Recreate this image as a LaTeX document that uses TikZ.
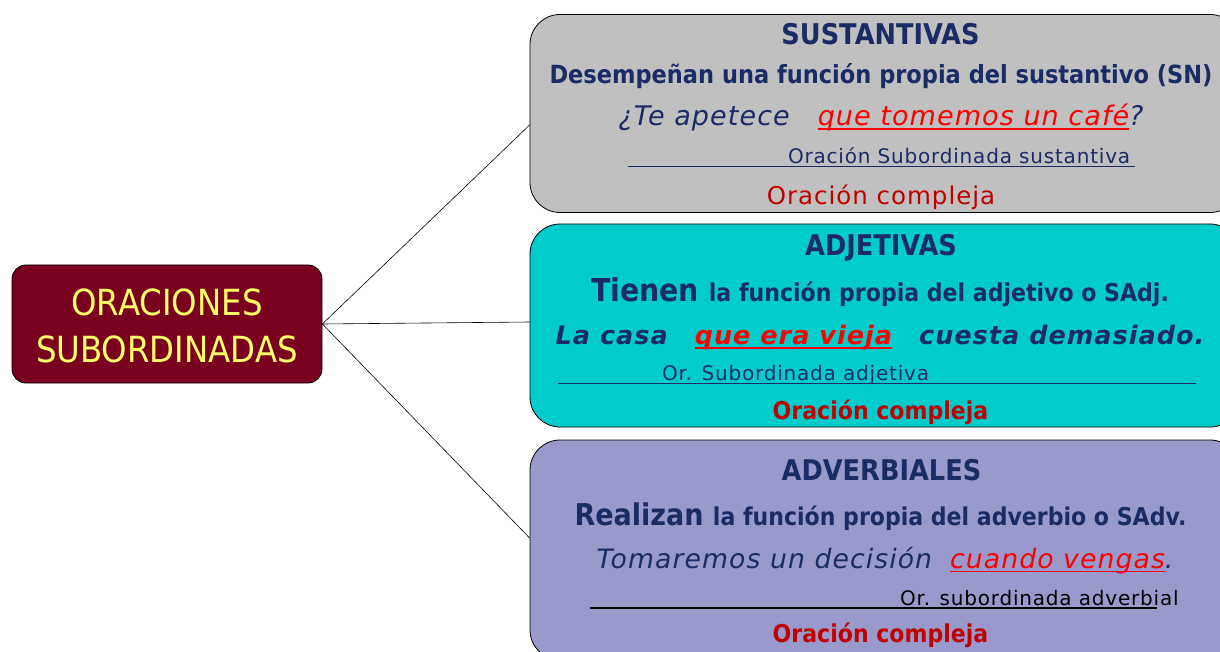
\documentclass[tikz,border=0pt]{standalone}
\usepackage{fontspec}
\setmainfont{DejaVu Sans}[FakeStretch=0.9]
\newfontfamily\lsp{DejaVu Sans}[FakeStretch=1.0, LetterSpace=4]
\definecolor{navy}{HTML}{1B2B66}
\definecolor{redu}{HTML}{FF0000}
\definecolor{dred}{HTML}{C00000}
\definecolor{maroon}{HTML}{7A0020}
\definecolor{yell}{HTML}{FFFF66}
\definecolor{grayb}{HTML}{C0C0C0}
\definecolor{cyanb}{HTML}{00CCCC}
\definecolor{lavb}{HTML}{9999CC}
\newcommand{\fsz}[1]{\fontsize{#1}{#1}\selectfont}
\newcommand{\ulx}[1]{\setbox0\hbox{#1}\rlap{\rule[-4pt]{\wd0}{1.5pt}}\box0}
\tikzset{
  bigbox/.style={draw=black, line width=0.8pt, rounded corners=30pt, minimum width=710pt, inner sep=0pt},
  rootbox/.style={draw=black, line width=0.8pt, rounded corners=14pt, fill=maroon, minimum width=310pt, minimum height=118pt, inner sep=0pt},
  txt/.style={anchor=base, inner sep=0pt, outer sep=0pt},
  link/.style={draw=black, line width=0.6pt},
  uline/.style={line width=1.3pt}
}
\begin{document}
\begin{tikzpicture}[x=1pt,y=-1pt]
\useasboundingbox (0,0) rectangle (1220,652);
% root
\node[rootbox] (root) at (167,324) {};
\node[txt, text=yell] (r1) at (167,315) {\fsz{36}ORACIONES};
\node[txt, text=yell] (r2) at (167,362) {\fsz{36}SUBORDINADAS};
% boxes
\node[bigbox, fill=grayb, minimum height=198pt] (b1) at (885,113.5) {};
\node[bigbox, fill=cyanb, minimum height=203pt] (b2) at (885,325.5) {};
\node[bigbox, fill=lavb, minimum height=220pt] (b3) at (885,550) {};
% connectors
\draw[link] (root.east) -- ([yshift=-11.5pt]b1.west);
\draw[link] (root.east) -- ([yshift=3.5pt]b2.west);
\draw[link] (root.east) -- ([yshift=12pt]b3.west);
% box 1
\node[txt, text=navy] (t11) at (880.5,45) {\fsz{28.5}\bfseries SUSTANTIVAS};
\node[txt, text=navy] (t12) at (881,83.5) {\fsz{25}\bfseries Desempeñan una función propia del sustantivo (SN)};
\node[txt, text=navy] (t13) at (881,126) {\lsp\fsz{27}\itshape ¿Te apetece\hspace{28pt}\textcolor{redu}{\ulx{que tomemos un café}}?};
\coordinate (l1a) at (628,166.5);
\coordinate (l1b) at (1135,166.5);
\draw[navy, uline] (l1a) -- (l1b);
\node[txt, anchor=base west, text=navy] (t14) at (788,163.5) {\lsp\fsz{20}Oración Subordinada sustantiva};
\node[txt, text=dred] (t15) at (881,205) {\lsp\fsz{24.5}Oración compleja};
% box 2
\node[txt, text=navy] (t21) at (881,256) {\fsz{28.5}\bfseries ADJETIVAS};
\node[txt, text=navy] (t22) at (880,301) {\bfseries\fsz{31.5}Tienen \fsz{24.5}la función propia del adjetivo o SAdj.};
\node[txt, text=navy] (t23) at (880,344.5) {\lsp\fsz{25.5}\bfseries\itshape La casa\hspace{27pt}\textcolor{redu}{\ulx{que era vieja}}\hspace{27pt}cuesta demasiado.};
\coordinate (l2a) at (558,383.5);
\coordinate (l2b) at (1196,383.5);
\draw[navy, uline] (l2a) -- (l2b);
\node[txt, anchor=base west, text=navy] (t24) at (662,380) {\lsp\fsz{20}Or. Subordinada adjetiva};
\node[txt, text=dred] (t25) at (880.5,419) {\fsz{24.5}\bfseries Oración compleja};
% box 3
\node[txt, text=navy] (t31) at (881.5,480) {\fsz{28.5}\bfseries ADVERBIALES};
\node[txt, text=navy] (t32) at (880.5,525) {\bfseries\fsz{30}Realizan \fsz{24.5}la función propia del adverbio o SAdv.};
\node[txt, text=navy] (t33) at (885,568) {\lsp\fsz{26.7}\itshape Tomaremos un decisión\hspace{18pt}\textcolor{redu}{\ulx{cuando vengas}}.};
\coordinate (l3a) at (590,608);
\coordinate (l3b) at (1157,608);
\draw[black, uline] (l3a) -- (l3b);
\node[txt, anchor=base west, text=black] (t34) at (900,605) {\lsp\fsz{20}Or. subordinada adverbial};
\node[txt, text=dred] (t35) at (880.5,642) {\fsz{24.5}\bfseries Oración compleja};
\end{tikzpicture}
\end{document}
